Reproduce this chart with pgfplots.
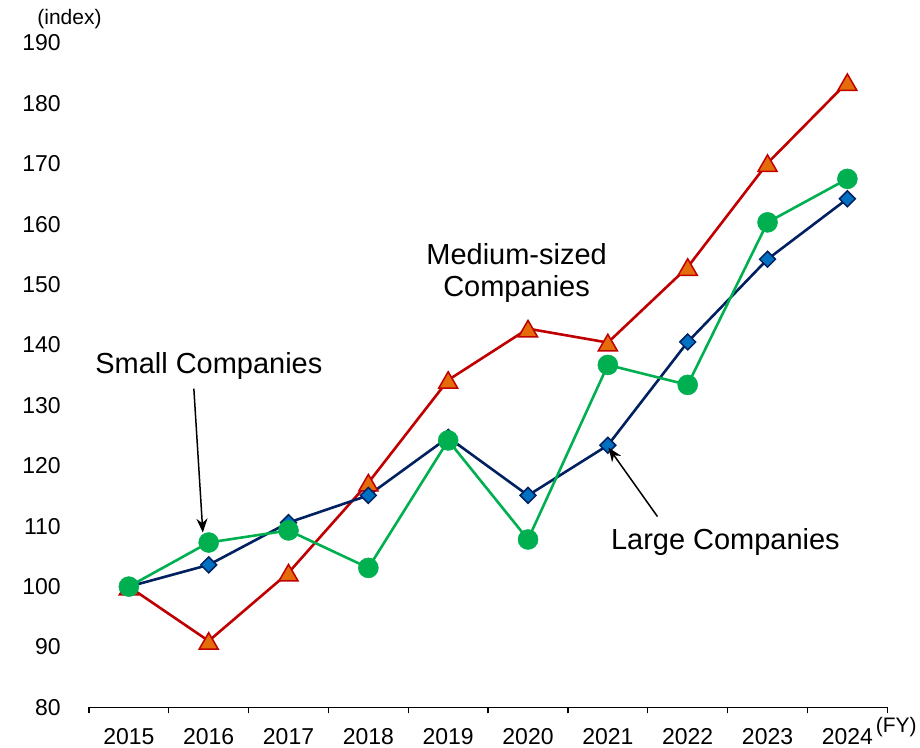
\documentclass[border=0pt]{standalone}
\usepackage{fontspec}
\setmainfont{Liberation Sans}
\usepackage{pgfplots}
\pgfplotsset{compat=1.18}
\usetikzlibrary{arrows.meta}
\definecolor{navy}{HTML}{002060}
\definecolor{dblue}{HTML}{0070C0}
\definecolor{mgreen}{HTML}{00B050}
\definecolor{mred}{HTML}{C00000}
\definecolor{morange}{HTML}{E46C0A}
\begin{document}
\begin{tikzpicture}[x=1pt,y=1pt]
\begin{axis}[
  at={(89pt,38pt)}, anchor=south west,
  width=799pt, height=665pt, scale only axis,
  xmin=-0.5, xmax=9.5, ymin=80, ymax=190,
  clip=false,
  axis x line*=bottom, axis y line*=left,
  y axis line style={draw=none},
  x axis line style={line width=1.3pt, black},
  ytick={80,90,...,190},
  xtick={0,...,9},
  xticklabels={2015,2016,2017,2018,2019,2020,2021,2022,2023,2024},
  minor xtick={-0.5,0.5,...,9.5},
  tick align=outside,
  major tick length=0pt,
  minor tick length=6pt,
  x tick style={line width=1.3pt, black},
  ytick style={draw=none},
  /pgf/number format/assume math mode=true,
  /pgf/number format/1000 sep={},
  tick label style={font=\fontsize{23}{27}\selectfont},
  xticklabel style={anchor=base, yshift=-37pt},
  yticklabel style={anchor=east, inner sep=0pt, xshift=-28pt},
]
% medium-sized companies
\addplot[mred, line width=2.6pt, mark=triangle*,
  mark size=11pt, mark options={yshift=-2.7pt, fill=morange, draw=mred, line width=1.5pt}]
  coordinates {(0,100) (1,91.0) (2,102.3) (3,117.2) (4,134.2) (5,142.7)
               (6,140.4) (7,152.9) (8,170.1) (9,183.5)};
% large companies
\addplot[navy, line width=2.6pt, mark=square*,
  mark size=5.6pt, mark options={rotate=45, fill=dblue, draw=navy, line width=1.5pt}]
  coordinates {(0,100) (1,103.6) (2,110.6) (3,115.1) (4,124.7) (5,115.1)
               (6,123.4) (7,140.5) (8,154.2) (9,164.2)};
% small companies
\addplot[mgreen, line width=2.6pt, mark=*,
  mark size=10pt, mark options={fill=mgreen, draw=mgreen, line width=0.5pt}]
  coordinates {(0,100) (1,107.3) (2,109.3) (3,103.1) (4,124.2) (5,107.8)
               (6,136.7) (7,133.4) (8,160.3) (9,167.5)};
\end{axis}
\begin{scope}[font=\fontsize{29}{32}\selectfont]
\node[anchor=base] at (209,372) {Small Companies};
\node[anchor=base] at (517,481) {Medium-sized};
\node[anchor=base] at (517,449) {Companies};
\node[anchor=base] at (726,196) {Large Companies};
\end{scope}
\node[anchor=base, font=\fontsize{21}{24}\selectfont] at (69.5,721) {(index)};
\node[anchor=base, font=\fontsize{21}{24}\selectfont] at (897,13) {(FY)};
\draw[line width=1.5pt, -{Stealth[length=14pt, width=11pt]}] (194,357) -- (203,213);
\draw[line width=1.5pt, -{Stealth[length=14pt, width=11pt]}] (658,229) -- (609,298);
\path (0,0) rectangle (920,746);
\end{tikzpicture}
\end{document}
